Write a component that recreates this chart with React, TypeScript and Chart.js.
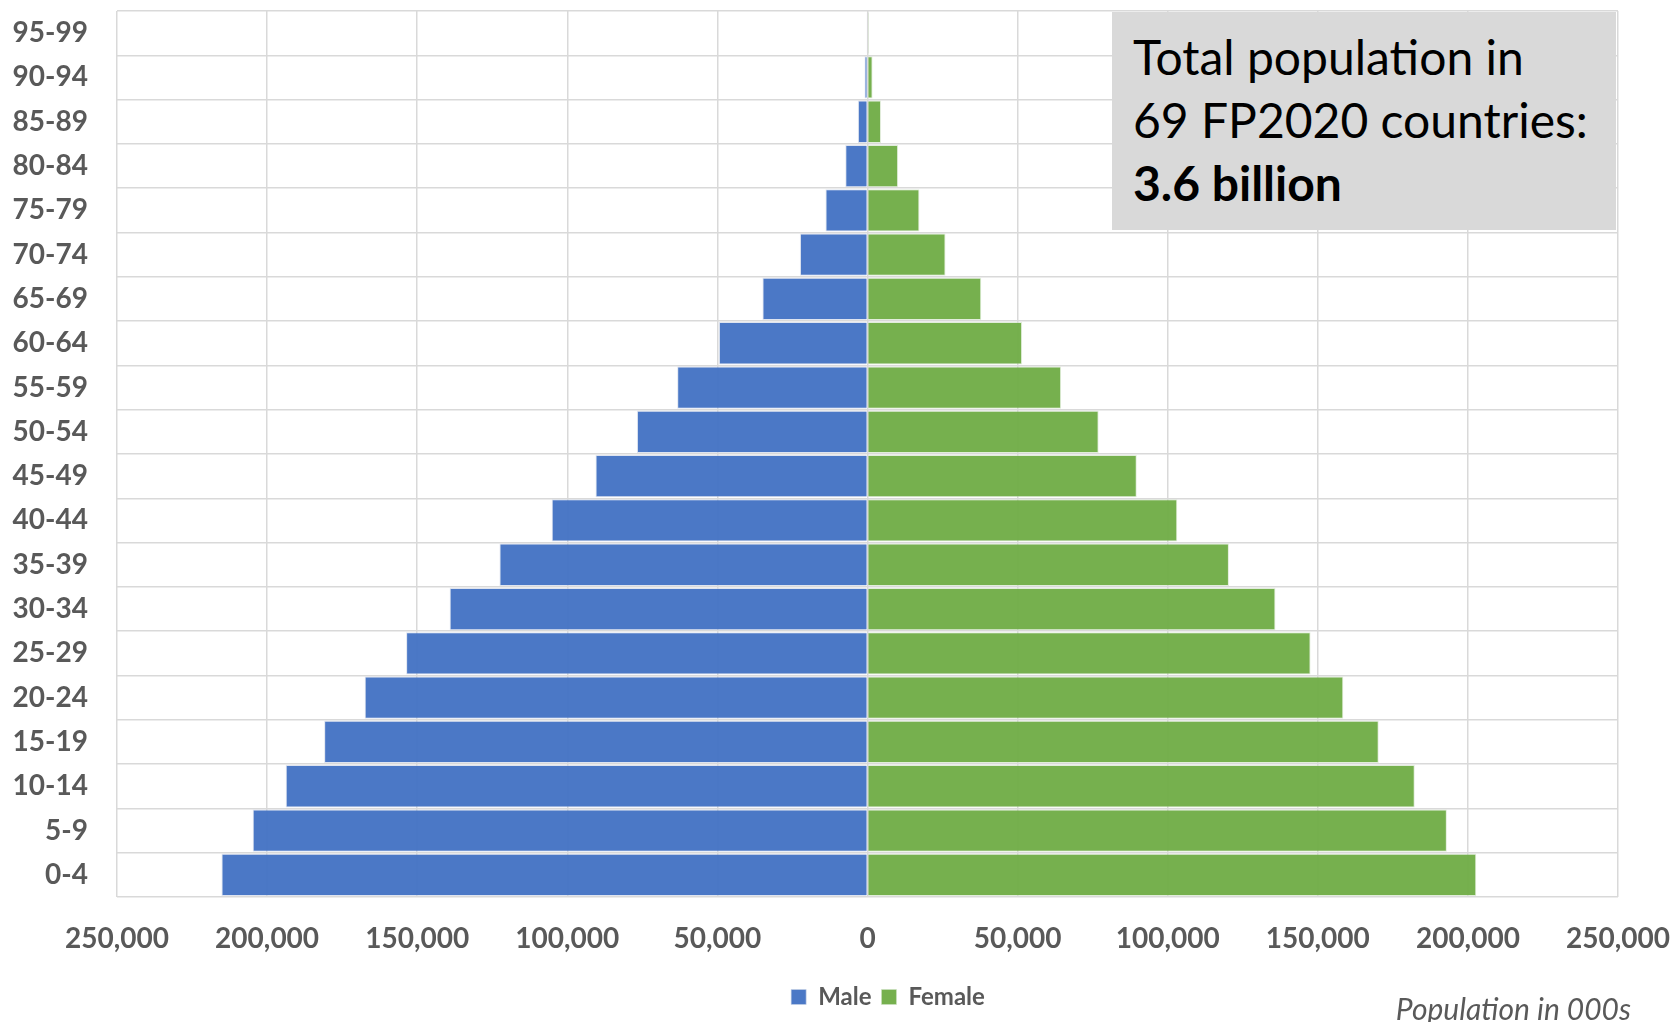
import React, { useEffect, useRef } from "react";
import { Chart, registerables } from "chart.js";

Chart.register(...registerables);

const ageGroups = ["0-4", "5-9", "10-14", "15-19", "20-24", "25-29", "30-34", "35-39", "40-44", "45-49", "50-54", "55-59", "60-64", "65-69", "70-74", "75-79", "80-84", "85-89", "90-94", "95-99"];
// Population in 000s
const malePop = [215200, 204800, 193800, 181000, 167500, 153700, 139200, 122600, 105200, 90600, 76800, 63400, 49500, 35000, 22500, 14000, 7400, 3200, 1000, 200];
const femalePop = [202800, 193000, 182300, 170300, 158500, 147600, 135900, 120400, 103200, 89700, 77000, 64500, 51500, 37900, 26000, 17300, 10200, 4500, 1700, 400];
const seriesNames = ["Male", "Female"];
const xMin = -250000;
const xMax = 250000;
const xStep = 50000;
const boxLines = ["Total population in", "69 FP2020 countries:", "3.6 billion"];
const unitNote = "Population in 000s";

const GRAY_TEXT = "#595959";
const GRID = "#d9d9d9";

export default function App() {
  const canvasRef = useRef<HTMLCanvasElement | null>(null);

  useEffect(() => {
    document.body.style.margin = "0";
    document.body.style.overflow = "hidden";
    const canvas = canvasRef.current;
    if (!canvas) return;

    const legendShift = {
      id: "legendShift",
      afterLayout(chart: any) {
        const lg = chart.legend;
        if (!lg) return;
        const cur = (lg.left + lg.right) / 2;
        const want = 888;
        const d = want - cur;
        lg.left += d;
        lg.right += d;
      },
    };

    const chart = new Chart(canvas, {
      type: "bar",
      data: {
        labels: ageGroups,
        datasets: [
          {
            label: seriesNames[0],
            data: malePop.map((v) => -v),
            backgroundColor: "rgba(68,114,196,0.96)",
            borderColor: "rgba(200,210,230,0.6)",
            borderWidth: 1,
            barPercentage: 0.955,
            categoryPercentage: 1,
          },
          {
            label: seriesNames[1],
            data: femalePop,
            backgroundColor: "rgba(112,173,71,0.96)",
            borderColor: "rgba(205,225,195,0.6)",
            borderWidth: 1,
            barPercentage: 0.955,
            categoryPercentage: 1,
          },
        ],
      },
      options: {
        indexAxis: "y",
        responsive: false,
        animation: false,
        devicePixelRatio: 1,
        layout: { padding: { left: 0, right: 59, top: 11, bottom: 3 } },
        scales: {
          x: {
            stacked: true,
            min: xMin,
            max: xMax,
            grid: { color: GRID, lineWidth: 1.5, drawTicks: false },
            border: { display: false },
            ticks: {
              stepSize: xStep,
              padding: 25,
              color: GRAY_TEXT,
              font: { family: "Lato", size: 28, weight: "bold" },
              maxRotation: 0,
              autoSkip: false,
              callback: (v: any) => Math.abs(Number(v)).toLocaleString("en-US"),
            },
            afterFit: (scale: any) => {
              scale.height = 78;
              scale.paddingLeft = 0;
              scale.paddingRight = 0;
            },
          },
          y: {
            stacked: true,
            reverse: true,
            grid: { color: GRID, lineWidth: 1.5, drawTicks: false, offset: true },
            border: { display: false },
            ticks: {
              padding: 29,
              color: GRAY_TEXT,
              font: { family: "Lato", size: 28, weight: "bold" },
              autoSkip: false,
            },
            afterFit: (scale: any) => {
              scale.width = 117;
              scale.paddingTop = 0;
              scale.paddingBottom = 0;
            },
          },
        },
        plugins: {
          legend: {
            position: "bottom",
            labels: {
              boxWidth: 15,
              boxHeight: 15,
              padding: 10,
              color: GRAY_TEXT,
              font: { family: "Lato", size: 24, weight: "bold" },
            },
          },
          tooltip: { enabled: false },
        },
      },
      plugins: [legendShift],
    });

    return () => chart.destroy();
  }, []);

  return (
    <div style={{ position: "relative", width: 1677, height: 1022, background: "#fff", overflow: "hidden" }}>
      <canvas ref={canvasRef} width={1677} height={1022} style={{ display: "block" }} />
      <div
        style={{
          position: "absolute",
          left: 1112,
          top: 12,
          width: 504,
          height: 218,
          background: "#d9d9d9",
          boxSizing: "border-box",
          paddingTop: 13,
          paddingLeft: 21,
          fontFamily: "Lato",
          fontSize: 48,
          lineHeight: "63px",
          color: "#000",
        }}
      >
        <div>{boxLines[0]}</div>
        <div>{boxLines[1]}</div>
        <div style={{ fontWeight: "bold" }}>{boxLines[2]}</div>
      </div>
      <div
        style={{
          position: "absolute",
          right: 1677 - 1631,
          top: 989,
          fontFamily: "Lato",
          fontStyle: "italic",
          fontSize: 30,
          lineHeight: "38px",
          color: GRAY_TEXT,
          whiteSpace: "nowrap",
        }}
      >
        {unitNote}
      </div>
    </div>
  );
}
